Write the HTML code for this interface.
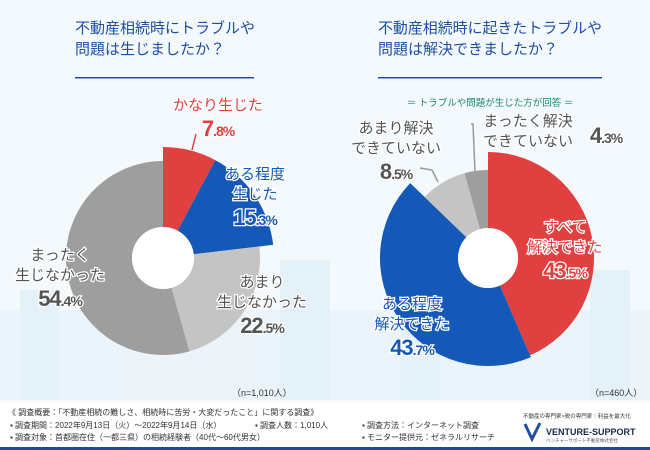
<!DOCTYPE html>
<html><head><meta charset="utf-8">
<style>
body{margin:0;width:650px;height:450px;overflow:hidden;background:#f4f9fd;font-family:"Liberation Sans","Noto Sans CJK JP",sans-serif;}
svg{display:block}
text{font-family:"Liberation Sans","Noto Sans CJK JP",sans-serif;}
</style></head>
<body>
<svg id="root" width="650" height="450" viewBox="0 0 650 450">
<rect x="0" y="0" width="650" height="400" fill="#f4f9fd"/>
<g id="city" opacity="0.5">
  <rect x="0" y="310" width="650" height="90" fill="#e3f0f8"/>
  <rect x="20" y="290" width="40" height="110" fill="#d8ebf6"/>
  <rect x="280" y="260" width="50" height="140" fill="#d8ebf6"/>
  <rect x="400" y="280" width="40" height="120" fill="#d8ebf6"/>
  <rect x="590" y="270" width="40" height="130" fill="#d8ebf6"/>
</g>
<rect x="0" y="402" width="650" height="45" fill="#ffffff"/>
<rect x="0" y="447" width="650" height="3" fill="#1a4a9c"/>

<g fill="#1e4fa3" font-size="15">
<text x="75" y="33">不動産相続時にトラブルや</text>
<text x="75" y="54">問題は生じましたか？</text>
<rect x="75" y="77" width="179" height="1.5" fill="#1e4fa3"/>
</g>
<g fill="#1e4fa3" font-size="15">
<text x="378" y="33" textLength="224" lengthAdjust="spacingAndGlyphs">不動産相続時に起きたトラブルや</text>
<text x="378" y="54">問題は解決できましたか？</text>
<rect x="378" y="77" width="224" height="1.5" fill="#1e4fa3"/>
<text x="490" y="106" font-size="9.5" fill="#1a8a6e" text-anchor="middle">＝ トラブルや問題が生じた方が回答 ＝</text>
</g>

<g stroke="#999" stroke-width="1.5" fill="none">
<path d="M196 134 L192 150" stroke="#e04040"/>
<path d="M420 168 L432 170 L438 182"/>
<path d="M471 124 L473 124 L475 172"/>
</g>

<g id="pies"></g>

<g font-size="9" fill="#333">
<text x="232" y="396">（n=1,010人）</text>
<text x="590" y="396">（n=460人）</text>
</g>
<g font-size="8" fill="#333">
<text x="8" y="415">《 調査概要：「不動産相続の難しさ、相続時に苦労・大変だったこと」に関する調査》</text>
<text x="10" y="428">▪ 調査期間：2022年9月13日（火）～2022年9月14日（水）</text>
<text x="255" y="428">▪ 調査人数：1,010人</text>
<text x="10" y="440">▪ 調査対象：首都圏在住（一都三県）の相続経験者（40代～60代男女）</text>
<text x="362" y="428">▪ 調査方法：インターネット調査</text>
<text x="362" y="440">▪ モニター提供元：ゼネラルリサーチ</text>
</g>
<g>
<text x="523" y="418" font-size="5.5" fill="#333">不動産の専門家×税の専門家｜利益を最大化</text>
<path d="M525 424 L532 439 L540 423" fill="none" stroke="#1e4fa3" stroke-width="3"/>
<text x="546" y="435" font-size="9" font-weight="bold" fill="#1a2a4a">VENTURE-SUPPORT</text>
<text x="546" y="442" font-size="4.5" fill="#555">ベンチャーサポート不動産株式会社</text>
</g>
</svg>
<script>
const leftCats=["かなり生じた","ある程度生じた","あまり生じなかった","まったく生じなかった"];
const leftVals=[7.8,15.3,22.5,54.4];
const rightCats=["すべて解決できた","ある程度解決できた","あまり解決できていない","まったく解決できていない"];
const rightVals=[43.5,43.7,8.5,4.3];
const colors=["#e04040","#1559b8","#c4c4c4","#9e9e9e"];
const NS="http://www.w3.org/2000/svg";
const g=document.getElementById('pies');
function pt(cx,cy,r,a){return [cx+r*Math.sin(a),cy-r*Math.cos(a)];}
function donut(vals,cx,cy,radii,hole,prefix){
  const tot=vals.reduce((a,b)=>a+b,0);let a0=0;
  vals.forEach((v,i)=>{
    const a1=a0+v/tot*2*Math.PI;const r=radii[i];
    const p0=pt(cx,cy,r,a0),p1=pt(cx,cy,r,a1),q1=pt(cx,cy,hole,a1),q0=pt(cx,cy,hole,a0);
    const lg=(a1-a0)>Math.PI?1:0;
    const p=document.createElementNS(NS,'path');
    p.setAttribute('d',`M${p0[0]},${p0[1]} A${r},${r} 0 ${lg} 1 ${p1[0]},${p1[1]} L${q1[0]},${q1[1]} A${hole},${hole} 0 ${lg} 0 ${q0[0]},${q0[1]}Z`);
    p.setAttribute('fill',colors[i]);
    
    
    g.appendChild(p);a0=a1;
  });
  const c=document.createElementNS(NS,'circle');
  c.setAttribute('cx',cx);c.setAttribute('cy',cy);c.setAttribute('r',hole);c.setAttribute('fill','#fff');
  
  
  g.appendChild(c);
}
donut(leftVals,163,258,[111,111,97,97],31,'left');
donut(rightVals,488,258,[106,108,88,88],30,'right');
function lab(lines,val,x,y,col,name,pctDx,pctDy){
  const t=document.createElementNS(NS,'g');
  
  
  let s='';
  lines.forEach((l,i)=>{s+=`<text x="${x}" y="${y+i*20}" font-size="15" fill="${col}" text-anchor="middle" stroke="#fff" stroke-width="2.5" paint-order="stroke">${l}</text>`;});
  const iv=Math.floor(val),dv=(val-iv).toFixed(1).slice(1);
  const px=pctDx===undefined?x:x+pctDx, py=pctDy===undefined?y+lines.length*20+6:y+pctDy;
  s+=`<text x="${px}" y="${py}" font-size="22" font-weight="bold" fill="${col}" text-anchor="middle" stroke="#fff" stroke-width="2.5" paint-order="stroke" letter-spacing="-1">${iv}<tspan font-size="14">${dv}%</tspan></text>`;
  t.innerHTML=s;g.appendChild(t);
}
lab(["かなり生じた"],leftVals[0],218,110,colors[0],'label-left-1');
lab(["ある程度","生じた"],leftVals[1],255,179,colors[1],'label-left-2');
lab(["あまり","生じなかった"],leftVals[2],262,287,'#555','label-left-3');
lab(["まったく","生じなかった"],leftVals[3],60,260,'#555','label-left-4');
lab(["すべて","解決できた"],rightVals[0],565,232,colors[0],'label-right-1');
lab(["ある程度","解決できた"],rightVals[1],412,309,colors[1],'label-right-2');
lab(["あまり解決","できていない"],rightVals[2],396,133,'#555','label-right-3');
lab(["まったく解決","できていない"],rightVals[3],528,126,'#555','label-right-4',78,17);
</script>
</body></html>
